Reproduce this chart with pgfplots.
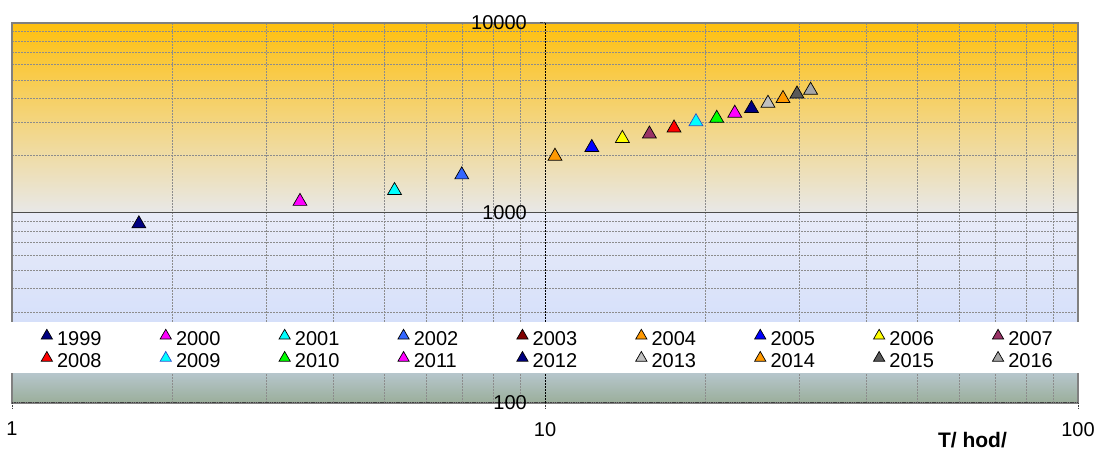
\documentclass[border=0pt]{standalone}
\usepackage{fontspec}
\setmainfont{Liberation Sans}
\usepackage{pgfplots}
\pgfplotsset{compat=1.18}

\definecolor{c1999}{HTML}{000080}
\definecolor{c2000}{HTML}{FF00FF}
\definecolor{c2001}{HTML}{00FFFF}
\definecolor{c2002}{HTML}{3366FF}
\definecolor{c2003}{HTML}{800000}
\definecolor{c2004}{HTML}{FF9900}
\definecolor{c2005}{HTML}{0000FF}
\definecolor{c2006}{HTML}{FFFF00}
\definecolor{c2007}{HTML}{993366}
\definecolor{c2008}{HTML}{FF0000}
\definecolor{c2009}{HTML}{00FFFF}
\definecolor{c2010}{HTML}{00FF00}
\definecolor{c2011}{HTML}{FF00FF}
\definecolor{c2012}{HTML}{000080}
\definecolor{c2013}{HTML}{C0C0C0}
\definecolor{c2014}{HTML}{FF9900}
\definecolor{c2015}{HTML}{595959}
\definecolor{c2016}{HTML}{A6A6A6}
\definecolor{bgtop}{HTML}{FFC00E}
\definecolor{bgmid}{HTML}{E8E8E8}
\definecolor{lavtop}{HTML}{E8EBF8}
\definecolor{lavbot}{HTML}{D6E0FA}
\definecolor{sagetop}{HTML}{B6C6CC}
\definecolor{sagebot}{HTML}{9AAE9A}
\definecolor{gridc}{HTML}{8C8C8C}

\pgfplotsset{
  yr/.style={only marks, mark=triangle*, mark size=8pt,
    mark options={draw=black, line width=0.7pt, fill=#1}},
}

\begin{document}
\begin{tikzpicture}[font=\fontsize{20}{24}\selectfont]
\begin{axis}[
  set layers=standard,
  scale only axis, width=1066pt, height=380.3pt,
  xmode=log, ymode=log,
  xmin=1, xmax=100, ymin=100, ymax=10000,
  xtick={1,10,100}, xticklabels={1,10,100},
  ytick={100,1000,10000}, yticklabels={},
  /pgf/number format/assume math mode=true,
  grid=both,
  major grid style={draw=gridc, dash pattern=on 2pt off 1pt, line width=0.8pt},
  minor grid style={draw=gridc, dash pattern=on 2pt off 1pt, line width=0.8pt},
  axis line style={draw=gray, line width=2pt},
  tickwidth=0pt, subtickwidth=0pt,
  every mark/.append style={yscale=1.16},
  xticklabel style={inner sep=0pt, yshift=-19pt, font=\fontsize{20}{24}\selectfont},
  xlabel={T/ hod/},
  xlabel style={at={(axis description cs:0.901,0)}, anchor=north, yshift=-29pt,
    inner sep=0pt, font=\bfseries\fontsize{21}{24}\selectfont},
  legend columns=9,
  legend style={at={(0.0272,0.1938)}, anchor=north west, draw=none, fill=none,
    inner sep=0pt, outer sep=0pt, row sep=0pt, column sep=0pt,
    nodes={inner sep=0pt, text height=16pt, text depth=6.2pt, text width=102.8pt,
      align=left, font=\fontsize{20}{24}\selectfont},
    /tikz/every odd column/.style={column sep=4.4pt}},
  legend image code/.code={\draw[#1, mark size=6.5pt, line width=0.5pt] plot coordinates {(5.65pt,4.6pt)}; \path (0pt,0pt) (11.3pt,0pt);},
]
\begin{pgfonlayer}{axis background}
  \fill[top color=bgtop, bottom color=bgmid] (rel axis cs:0,0.5) rectangle (rel axis cs:1,1);
  \fill[top color=lavtop, bottom color=lavbot] (rel axis cs:0,0.213) rectangle (rel axis cs:1,0.5);
  \fill[top color=sagetop, bottom color=sagebot] (rel axis cs:0,0) rectangle (rel axis cs:1,0.0789);
\end{pgfonlayer}
\begin{pgfonlayer}{pre main}
  \draw[black, dash pattern=on 2pt off 1pt, line width=0.8pt] (axis cs:10,100) -- (axis cs:10,10000);
  \draw[black!70, line width=1.3pt] (axis cs:1,1000) -- (axis cs:100,1000);
  \fill[white] (rel axis cs:-0.002,0.0789) rectangle (rel axis cs:1.003,0.213);
\end{pgfonlayer}

\addplot[yr=c1999] coordinates {(1.73,876)};
\addlegendentry{1999}
\addplot[yr=c2000] coordinates {(3.47,1149)};
\addlegendentry{2000}
\addplot[yr=c2001] coordinates {(5.22,1311)};
\addlegendentry{2001}
\addplot[yr=c2002] coordinates {(6.98,1584)};
\addlegendentry{2002}
\addlegendimage{yr=c2003}
\addlegendentry{2003}
\addplot[yr=c2004] coordinates {(10.44,1986)};
\addlegendentry{2004}
\addplot[yr=c2005] coordinates {(12.24,2207)};
\addlegendentry{2005}
\addplot[yr=c2006] coordinates {(13.97,2463)};
\addlegendentry{2006}
\addplot[yr=c2007] coordinates {(15.7,2599)};
\addlegendentry{2007}
\addplot[yr=c2008] coordinates {(17.46,2796)};
\addlegendentry{2008}
\addplot[only marks, mark=triangle*, mark size=8pt, mark options={draw=c2002!80!black, line width=0.7pt, fill=c2009}] coordinates {(19.2,3016)};
\addlegendentry{2009}
\addplot[yr=c2010] coordinates {(21.0,3144)};
\addlegendentry{2010}
\addplot[yr=c2011] coordinates {(22.7,3343)};
\addlegendentry{2011}
\addplot[yr=c2012] coordinates {(24.4,3539)};
\addlegendentry{2012}
\addplot[yr=c2013] coordinates {(26.2,3772)};
\addlegendentry{2013}
\addplot[yr=c2014] coordinates {(27.96,3995)};
\addlegendentry{2014}
\addplot[yr=c2015] coordinates {(29.7,4218)};
\addlegendentry{2015}
\addplot[yr=c2016] coordinates {(31.5,4417)};
\addlegendentry{2016}

\begin{pgfonlayer}{axis foreground}
  \draw[black!75, dash pattern=on 1.5pt off 0.8pt, line width=1pt] (rel axis cs:0,0) -- (rel axis cs:1,0);
  \draw[black!75, dash pattern=on 1.5pt off 0.8pt, line width=0.8pt] (axis cs:1,100) -- ([yshift=-6pt]axis cs:1,100);
  \draw[black!75, dash pattern=on 1.5pt off 0.8pt, line width=0.8pt] (axis cs:10,100) -- ([yshift=-6pt]axis cs:10,100);
  \draw[black!75, dash pattern=on 1.5pt off 0.8pt, line width=0.8pt] (axis cs:100,100) -- ([yshift=-6pt]axis cs:100,100);
  \draw[black!75, dash pattern=on 1.5pt off 0.8pt, line width=0.8pt] (axis cs:10,10000) -- ([xshift=-5pt]axis cs:10,10000);
  \draw[black!75, dash pattern=on 1.5pt off 0.8pt, line width=0.8pt] (axis cs:10,1000) -- ([xshift=-5pt]axis cs:10,1000);
  \node[anchor=east, inner sep=0pt, xshift=-18pt] at (axis cs:10,10000) {10000};
  \node[anchor=east, inner sep=0pt, xshift=-18pt] at (axis cs:10,1000) {1000};
  \node[anchor=east, inner sep=0pt, xshift=-18pt] at (axis cs:10,100) {100};
\end{pgfonlayer}
\end{axis}
\pgfresetboundingbox
\path[use as bounding box] ([xshift=-12pt,yshift=-47pt]current axis.south west) rectangle ([xshift=19pt,yshift=22.7pt]current axis.north east);
\end{tikzpicture}
\end{document}
